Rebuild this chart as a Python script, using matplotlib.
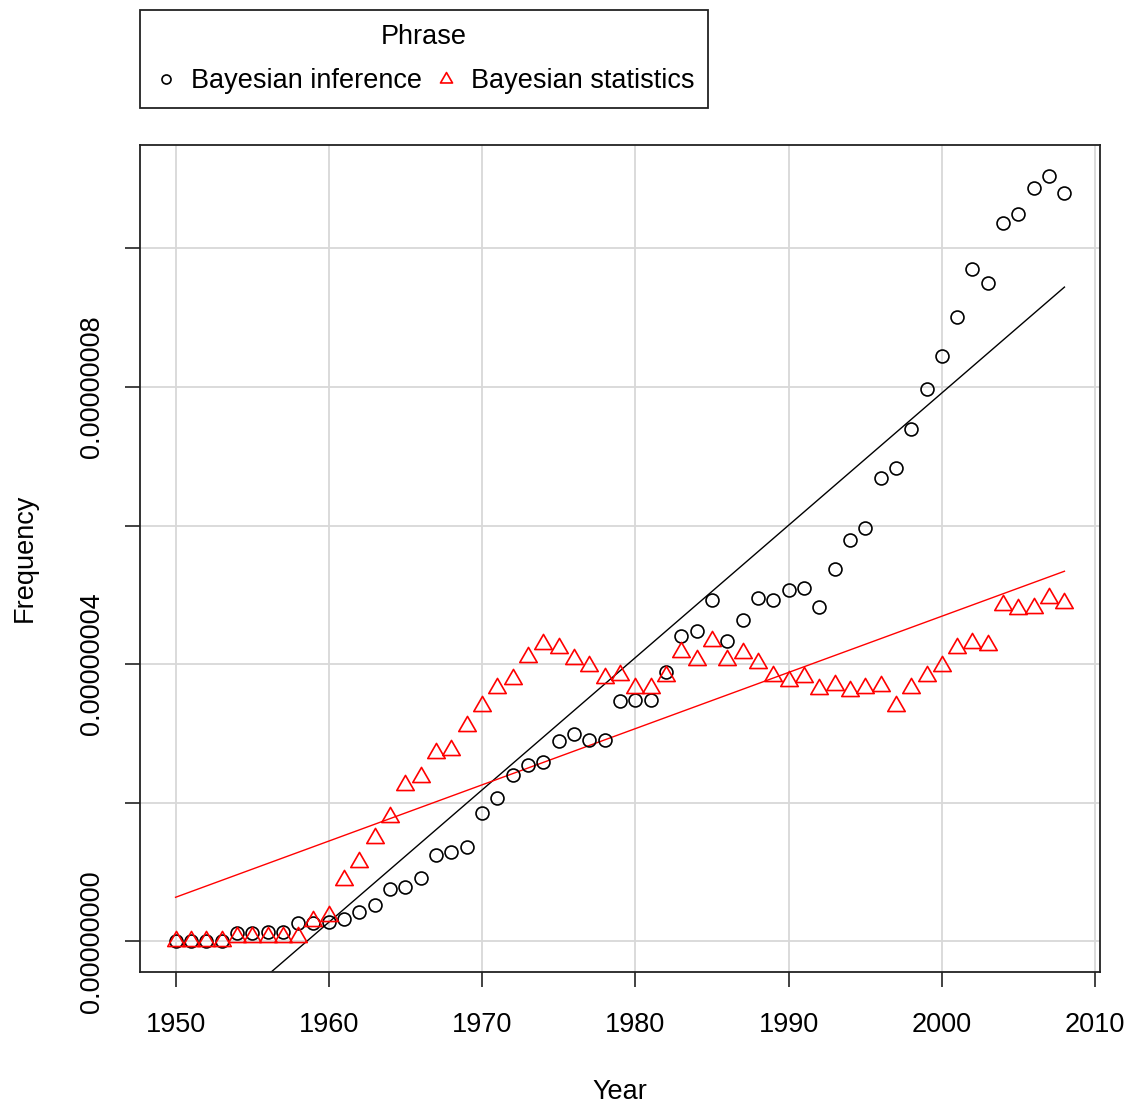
import numpy as np
import matplotlib
matplotlib.use("Agg")
import matplotlib.pyplot as plt
from matplotlib.path import Path
from matplotlib.lines import Line2D

# ---- data (values in units of 1e-8) ----
years = list(range(1950, 2009))
inference = [0, 0, 0, 0, 0.115, 0.115, 0.14, 0.14, 0.26, 0.27,
             0.28, 0.33, 0.42, 0.52, 0.75, 0.79, 0.92, 1.25, 1.29, 1.36,
             1.85, 2.07, 2.40, 2.55, 2.59, 2.89, 2.99, 2.91, 2.91, 3.47,
             3.49, 3.49, 3.88, 4.41, 4.48, 4.92, 4.33, 4.64, 4.95, 4.92,
             5.07, 5.10, 4.82, 5.37, 5.79, 5.97, 6.69, 6.83, 7.40, 7.97,
             8.45, 9.01, 9.70, 9.50, 10.36, 10.49, 10.87, 11.05, 10.80]
statistics = [0, 0, 0, 0, 0.07, 0.07, 0.07, 0.07, 0.07, 0.30,
              0.37, 0.88, 1.14, 1.49, 1.80, 2.26, 2.37, 2.72, 2.76, 3.11,
              3.40, 3.65, 3.78, 4.10, 4.29, 4.24, 4.07, 3.97, 3.80, 3.85,
              3.66, 3.66, 3.83, 4.18, 4.06, 4.34, 4.06, 4.16, 4.01, 3.83,
              3.76, 3.82, 3.64, 3.70, 3.61, 3.66, 3.69, 3.39, 3.66, 3.83,
              3.97, 4.24, 4.30, 4.27, 4.86, 4.79, 4.81, 4.95, 4.89]
UNIT = 1e-8
series_names = ["Bayesian inference", "Bayesian statistics"]
x_ticks = [1950, 1960, 1970, 1980, 1990, 2000, 2010]
y_ticks = [0, 2, 4, 6, 8, 10]
y_labelled = [0, 4, 8]

plt.rcParams['font.family'] = ['Liberation Sans', 'DejaVu Sans']
FS = 19.5

x = np.array(years, dtype=float)
y1 = np.array(inference) * UNIT
y2 = np.array(statistics) * UNIT

# R-style triangle (pch=2), centred on circumcentre
tri = Path([(0, 1.5551), (-1.3468, -0.7776), (1.3468, -0.7776), (0, 1.5551)],
           [Path.MOVETO, Path.LINETO, Path.LINETO, Path.CLOSEPOLY])

fig = plt.figure(figsize=(11.39, 11.08), dpi=100)
ax = fig.add_axes([140/1139, 1-972/1108, 960/1139, 827/1108])

ax.grid(True, color='#d8d8d8', lw=1.3)
ax.set_axisbelow(True)

ax.plot(x, y1, ls='none', marker='o', ms=9.3, mfc='none', mec='black', mew=1.2, zorder=3)
ax.plot(x, y2, ls='none', marker=tri, ms=14.5, mfc='none', mec='red', mew=1.2, zorder=3)

for y, c in ((y1, 'black'), (y2, 'red')):
    b = np.polyfit(x, y, 1)
    ax.plot(x, np.polyval(b, x), color=c, lw=1.0, zorder=2)

xr = x.max() - x.min()
ax.set_xlim(x.min() - 0.04*xr, x.max() + 0.04*xr)
ymax = max(y1.max(), y2.max())
ax.set_ylim(-0.04*ymax, 1.04*ymax)

ax.set_xticks(x_ticks)
ax.set_xticklabels([str(t) for t in x_ticks])
ax.set_yticks([t*UNIT for t in y_ticks])
ax.set_yticklabels([f"{t*UNIT:.8f}" if t in y_labelled else "" for t in y_ticks],
                   rotation=90, va='center')
ax.tick_params(axis='both', direction='out', length=11, width=1.2,
               labelsize=FS, color='#222222')
ax.tick_params(axis='x', pad=18)
ax.tick_params(axis='y', pad=14)
for s in ax.spines.values():
    s.set_linewidth(1.3)
    s.set_color('#222222')

fig.text(620/1139, 1-1092/1108, "Year", ha='center', va='center', fontsize=FS)
fig.text(25/1139, 1-558/1108, "Frequency", ha='center', va='center', fontsize=FS, rotation=90)

handles = [Line2D([], [], ls='none', marker='o', ms=6.5, mfc='none', mec='black', mew=1.2),
           Line2D([], [], ls='none', marker=tri, ms=10, mfc='none', mec='red', mew=1.2)]
leg = fig.legend(handles, series_names, title="Phrase", ncol=2, loc='upper left',
                 bbox_to_anchor=(140/1139, 1-10/1108), fontsize=FS, title_fontsize=FS,
                 frameon=True, fancybox=False, edgecolor='#222222', framealpha=1,
                 handlelength=0.88, handletextpad=0.49, columnspacing=0.44,
                 borderpad=0.51, labelspacing=0.69, borderaxespad=0)
leg.get_frame().set_linewidth(1.3)

fig.savefig("out.png", dpi=100)
